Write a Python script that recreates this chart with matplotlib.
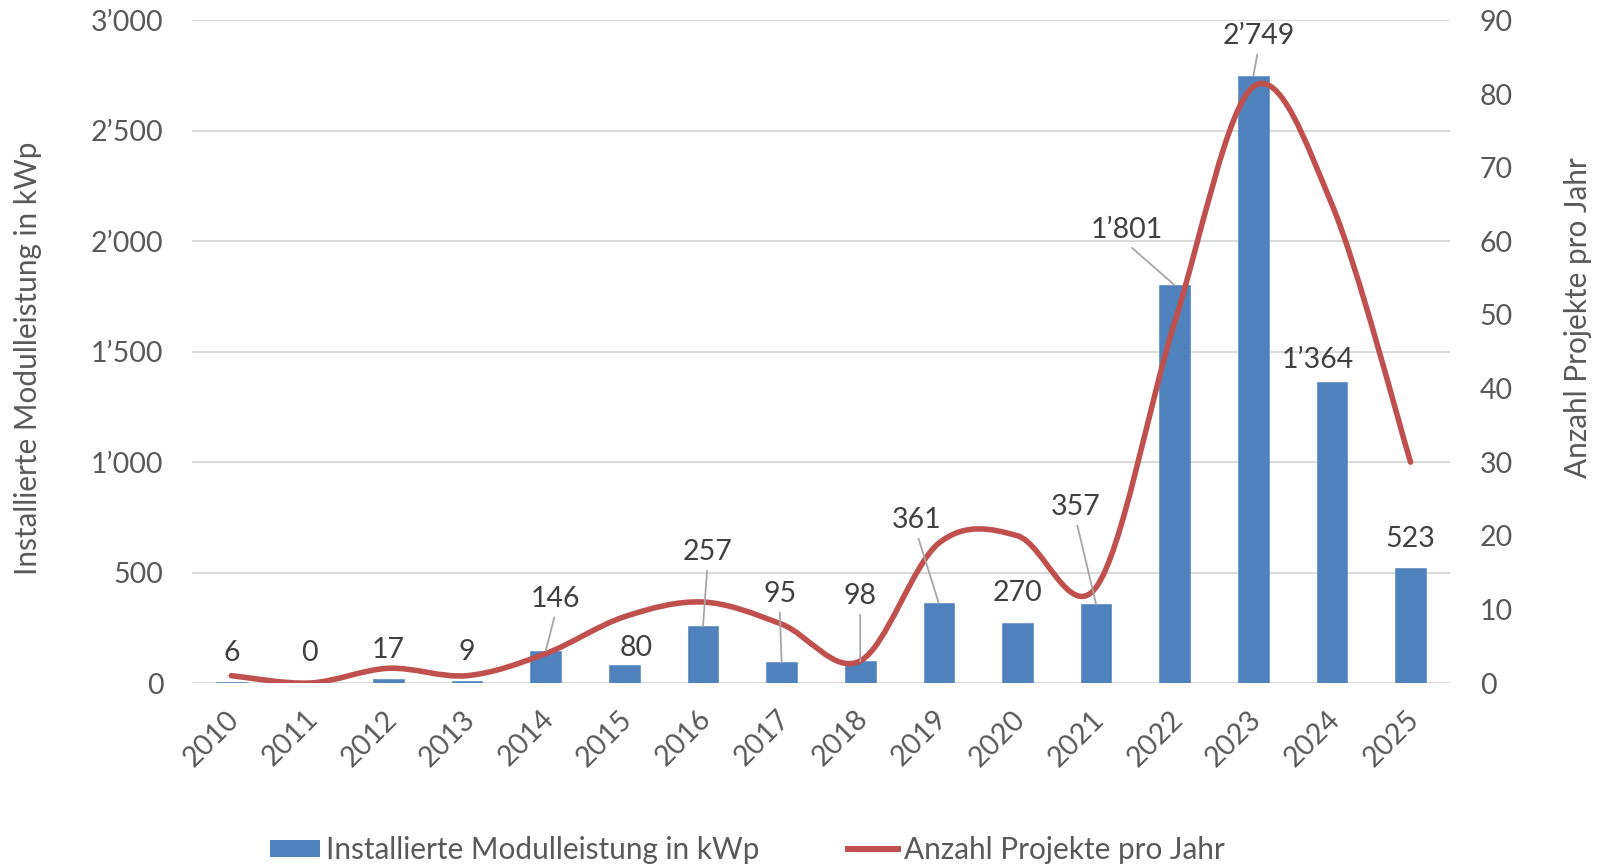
import matplotlib
matplotlib.use('Agg')
import matplotlib.pyplot as plt
from matplotlib.path import Path
from matplotlib.patches import PathPatch, Patch
from matplotlib.lines import Line2D
from matplotlib.transforms import ScaledTranslation

plt.rcParams['font.family'] = ['Lato', 'DejaVu Sans']

# data
years = ['2010', '2011', '2012', '2013', '2014', '2015', '2016', '2017',
         '2018', '2019', '2020', '2021', '2022', '2023', '2024', '2025']
leistung_kwp = [6, 0, 17, 9, 146, 80, 257, 95, 98, 361, 270, 357, 1801, 2749, 1364, 523]
projekte = [1, 0, 2, 1, 4, 9, 11, 8, 3, 19, 20, 13, 49, 81, 65, 30]

# label placement (offset in px from bar top, leader line yes/no)
label_offsets = [(0, 29, False), (0, 30, False), (0, 29, False), (0, 29, False),
                 (10, 52, True), (12, 17, False), (4.5, 74, True), (-2, 68, True),
                 (0, 65, True), (-22, 83, True), (0, 30, False), (-20, 97, True),
                 (-48, 55, True), (5, 40, True), (-14, 22, False), (0, 29, False)]

BLUE = '#4F81BD'
RED = '#C0504D'
GRID = '#D9D9D9'
TXT = '#595959'
LBL = '#404040'
FS = 20.5
FS_TITLE = 21.4


def fmt(v):
    return f"{v:,.0f}".replace(',', '\u2019')


fig = plt.figure(figsize=(16.01, 8.66), dpi=100)
ax = fig.add_axes([0.1199, 0.2113, 0.7857, 0.7651])
ax2 = ax.twinx()

x = list(range(len(years)))
ax.bar(x, leistung_kwp, width=0.39, color=BLUE, edgecolor='#6A95C8', linewidth=0.6, zorder=3)

ax.set_xlim(-0.5, len(years) - 0.5)
ax.set_ylim(0, 3000)
ax.set_yticks(range(0, 3001, 500))
ax.set_yticklabels([fmt(v) for v in range(0, 3001, 500)])
ax.yaxis.grid(True, color=GRID, linewidth=1.4, zorder=0)
ax.set_axisbelow(True)
for s in ax.spines.values():
    s.set_visible(False)
for s in ax2.spines.values():
    s.set_visible(False)

ax.set_xticks(x)
ax.set_xticklabels(years, rotation=45, ha='right', va='center', rotation_mode='anchor')
ax.tick_params(axis='x', length=0, pad=23, labelsize=FS, labelcolor=TXT)
ax.tick_params(axis='y', length=0, pad=20.5, labelsize=FS, labelcolor=TXT)
shift = ScaledTranslation(4 / 100, 0, fig.dpi_scale_trans)
for lbl in ax.get_xticklabels():
    lbl.set_transform(lbl.get_transform() + shift)

# smoothed line (Catmull-Rom as bezier, like Excel's smoothed line)
n = len(projekte)
verts = [(x[0], projekte[0])]
codes = [Path.MOVETO]
for i in range(n - 1):
    a = i - 1 if i > 0 else i
    d = i + 2 if i + 2 < n else i + 1
    c1 = (x[i] + (x[i + 1] - x[a]) / 6, projekte[i] + (projekte[i + 1] - projekte[a]) / 6)
    c2 = (x[i + 1] - (x[d] - x[i]) / 6, projekte[i + 1] - (projekte[d] - projekte[i]) / 6)
    verts += [c1, c2, (x[i + 1], projekte[i + 1])]
    codes += [Path.CURVE4] * 3
ax2.add_patch(PathPatch(Path(verts, codes), facecolor='none', edgecolor=RED,
                        linewidth=4.0, capstyle='round', joinstyle='round', zorder=4))
ax2.set_ylim(0, 90)
ax2.set_yticks(range(0, 91, 10))
ax2.tick_params(axis='y', length=0, pad=21.5, labelsize=FS, labelcolor=TXT)
ax2.set_xlim(-0.5, len(years) - 0.5)

# data labels
for i, v in enumerate(leistung_kwp):
    dx, dy, leader = label_offsets[i]
    ap = None
    if leader:
        ap = dict(arrowstyle='-', color='#A6A6A6', linewidth=1.3,
                  relpos=(0.5, 0.0), shrinkA=2, shrinkB=0)
    ax2.annotate(fmt(v), xy=(i, v * 90 / 3000), xytext=(dx * 0.72, dy * 0.72),
                 textcoords='offset points', ha='center', va='center',
                 fontsize=FS, color=LBL, arrowprops=ap, zorder=5)

fig.text(28 / 1601, 1 - 358 / 866, 'Installierte Modulleistung in kWp', rotation=90,
         ha='center', va='center', fontsize=FS_TITLE, color=TXT)
fig.text(1578 / 1601, 1 - 318 / 866, 'Anzahl Projekte pro Jahr', rotation=90,
         ha='center', va='center', fontsize=FS_TITLE, color=TXT)

handles = [Patch(facecolor=BLUE, edgecolor='none'),
           Line2D([0], [0], color=RED, linewidth=4.3)]
fig.legend(handles, ['Installierte Modulleistung in kWp', 'Anzahl Projekte pro Jahr'],
           loc='center left', bbox_to_anchor=(270 / 1601, 1 - 850 / 866), ncol=2,
           frameon=False, fontsize=FS_TITLE, labelcolor=TXT, borderpad=0, borderaxespad=0,
           handlelength=1.67, handleheight=0.53, handletextpad=0.2, columnspacing=3.0)

plt.savefig('out.png', dpi=100, facecolor='white')
plt.close()
